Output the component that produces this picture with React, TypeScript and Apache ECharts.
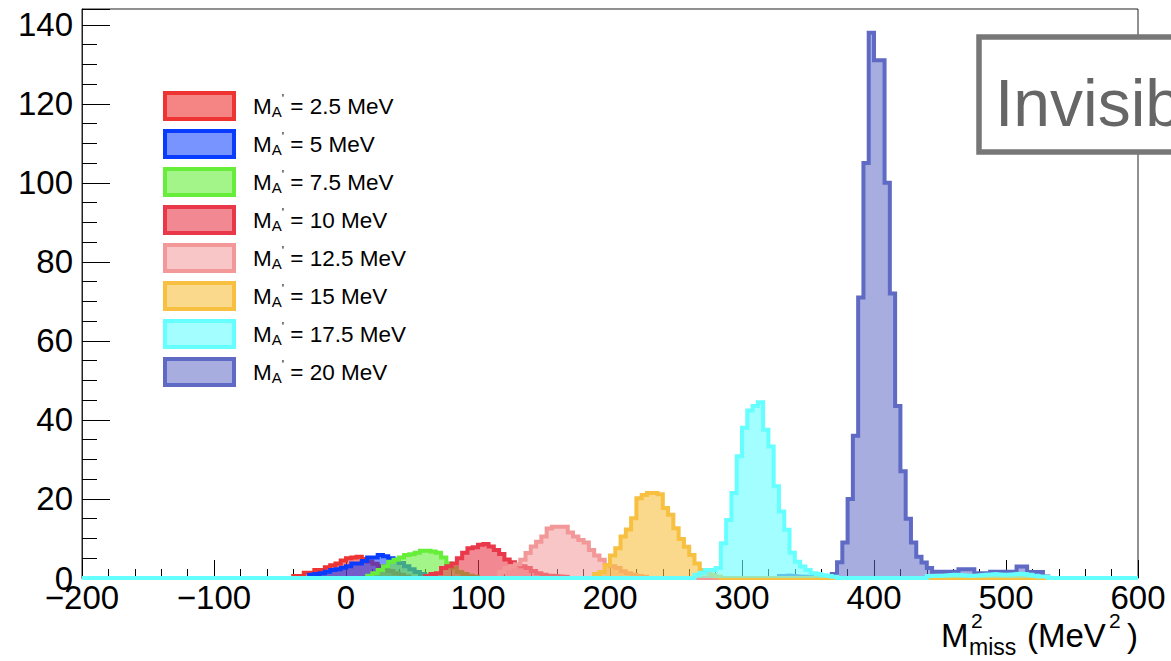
import React, { useEffect, useRef } from "react";
import * as echarts from "echarts";

// ---------- axis settings ----------
const X_MIN = -200;
const X_MAX = 600;
const BIN = 4;
const Y_MAX = 144;
const xTickValues = [-200, -100, 0, 100, 200, 300, 400, 500, 600];
const yTickValues = [0, 20, 40, 60, 80, 100, 120, 140];

// ---------- series labels / colours ----------
const massLabels = ["2.5", "5", "7.5", "10", "12.5", "15", "17.5", "20"];
const lineColors = ["#ee3333", "#0a3cff", "#66ee3a", "#e8384a", "#f29898", "#f8c040", "#66ffff", "#5f6ac5"];
const fillAlpha = [0.6, 0.55, 0.6, 0.6, 0.55, 0.6, 0.6, 0.55];

// ---------- histogram contents (bin width 4 MeV^2, first bin lower edge) ----------
const h25Start = -40;
const h25 = [0.5, 0.5, 1.3, 1.3, 2.0, 2.0, 2.7, 3.2, 3.7, 4.4, 5.0, 5.2, 5.4, 4.8, 4.2, 3.6, 3.0, 2.4, 1.8, 1.2, 0.8, 0.4];

const h5Start = -28;
const h5 = [0.8, 1.0, 1.2, 1.6, 2.0, 2.2, 2.6, 3.0, 3.7, 3.7, 4.3, 5.2, 5.2, 5.8, 5.5, 5.0, 4.6, 3.8, 3.0, 2.2, 1.5, 1.0, 0.6, 0.3];

const h75Start = 16;
const h75 = [0.6, 1.2, 2.0, 3.0, 4.1, 4.6, 5.2, 5.8, 6.0, 6.4, 6.9, 6.9, 6.7, 6.4, 5.2, 3.7, 2.5, 1.5, 1.0, 0.6, 0.3];

const h10Start = 60;
const h10 = [0.5, 1.0, 1.2, 2.5, 3.0, 3.7, 5.0, 6.4, 7.5, 7.8, 8.4, 8.6, 8.0, 7.1, 6.1, 4.7, 4.0, 3.3, 3.0, 2.5, 1.8, 1.2, 0.8, 0.6, 0.5, 0.4, 0.3];

const h125Start = 116;
const h125 = [1.5, 2.5, 3.0, 3.5, 4.6, 6.3, 8.0, 9.2, 10.5, 12.5, 13.0, 13.0, 13.0, 11.5, 10.5, 9.6, 9.0, 7.1, 5.7, 4.6, 3.3, 3.0, 2.5, 1.7, 1.2, 0.8, 0.5, 0.3];

const h15Start = 188;
const h15 = [1.0, 1.5, 3.3, 5.7, 7.5, 10.5, 12.3, 15.1, 20.2, 21.0, 21.5, 21.5, 21.2, 17.7, 16.0, 12.6, 9.9, 7.9, 5.8, 3.7, 2.0, 1.3, 0.8, 0.4];

const h175Start = 264;
const h175 = [0.8, 1.3, 2.0, 2.0, 2.5, 8.8, 14.7, 21.5, 30.8, 38.0, 42.4, 43.5, 44.5, 37.5, 33.3, 23.2, 16.8, 12.2, 6.4, 4.1, 2.9, 2.0, 1.2, 1.0, 0.7, 0.5, 0.3];
const h175TailStart = 440;
const h175Tail = [0.5, 0.6, 0.6, 0.7, 0.8, 0.8, 0.7, 0.6, 0.6, 0.7, 0.8, 0.9, 1.0, 0.9, 0.8, 0.9, 1.0, 1.1, 1.0, 0.8, 0.6, 0.4, 0.3];

const h20Start = 328;
const h20 = [0.5, 0.6, 0.5, 0.4, 0.3, 0.3, 0.3, 0.4, 0.5, 0.5, 1.0, 4.0, 9.0, 20, 36, 71, 105, 138, 131, 131, 100, 72, 43.5, 27, 15, 9, 5.4, 3.9, 2.5, 1.6, 1.6, 1.6, 1.6, 1.6, 2.2, 2.2, 2.2, 1.2, 1.2, 1.2, 1.6, 1.6, 1.6, 1.6, 1.6, 2.9, 2.9, 1.5, 1.5, 1.5, 0.4];

type Seg = { start: number; counts: number[] };

const histSegments: Seg[][] = [
  [{ start: h25Start, counts: h25 }],
  [{ start: h5Start, counts: h5 }],
  [{ start: h75Start, counts: h75 }],
  [{ start: h10Start, counts: h10 }],
  [{ start: h125Start, counts: h125 }],
  [{ start: h15Start, counts: h15 }],
  [
    { start: h175Start, counts: h175 },
    { start: h175TailStart, counts: h175Tail },
  ],
  [{ start: h20Start, counts: h20 }],
];

// drawing order (ROOT-like: tallest first, then the rest)
const drawOrder = [7, 0, 1, 2, 3, 4, 5, 6];

const FONT = "'Liberation Sans', Arial, Helvetica, sans-serif";

function histogramPoints(segs: Seg[]): [number, number][] {
  const nBins = Math.round((X_MAX - X_MIN) / BIN);
  const vals: number[] = new Array(nBins).fill(0);
  segs.forEach((s) => {
    const k0 = Math.round((s.start - X_MIN) / BIN);
    s.counts.forEach((c, i) => {
      const k = k0 + i;
      if (k >= 0 && k < nBins) vals[k] = c;
    });
  });
  const pts: [number, number][] = vals.map((v, k) => [X_MIN + k * BIN, v]);
  pts.push([X_MAX, 0]);
  return pts;
}

function hexToRgb(h: string): [number, number, number] {
  const n = parseInt(h.slice(1), 16);
  return [(n >> 16) & 255, (n >> 8) & 255, n & 255];
}

function blendWhite(h: string, a: number): string {
  const [r, g, b] = hexToRgb(h);
  const f = (c: number) => Math.round(255 - a * (255 - c));
  return `rgb(${f(r)},${f(g)},${f(b)})`;
}

export default function App() {
  const ref = useRef<HTMLDivElement>(null);

  useEffect(() => {
    if (!ref.current) return;
    const chart = echarts.init(ref.current, undefined, { renderer: "svg" });

    const seriesNames = massLabels.map((m) => `${m} MeV`);

    const series = drawOrder.map((i, z) => ({
      type: "line" as const,
      name: seriesNames[i],
      data: histogramPoints(histSegments[i]),
      step: "end" as const,
      symbol: "none",
      showSymbol: false,
      clip: false,
      silent: true,
      z: 2 + z * 0.01,
      yAxisIndex: 0,
      lineStyle: { color: lineColors[i], width: 4, cap: "butt", join: "miter" },
      itemStyle: { color: lineColors[i] },
      areaStyle: { color: lineColors[i], opacity: fillAlpha[i] },
    }));

    const option: any = {
      animation: false,
      backgroundColor: "#ffffff",
      grid: {
        left: 82,
        right: 33,
        top: 9,
        bottom: 83,
        show: true,
        borderColor: "#222",
        borderWidth: 1,
        backgroundColor: "transparent",
      },
      xAxis: {
        type: "value",
        min: X_MIN,
        max: X_MAX,
        interval: 100,
        axisLine: { show: true, onZero: false, lineStyle: { color: "#222", width: 1 } },
        axisTick: { show: true, inside: true, length: 18, lineStyle: { color: "#000", width: 1 } },
        minorTick: { show: true, splitNumber: 5, length: 9, lineStyle: { color: "#000", width: 1 } },
        splitLine: { show: false },
        axisLabel: {
          margin: 3,
          fontSize: 33,
          fontFamily: FONT,
          color: "#000",
          formatter: (v: number) =>
            xTickValues.includes(v) ? (v < 0 ? "\u2212" + Math.abs(v) : String(v)) : "",
        },
      },
      yAxis: [
        {
          type: "value",
          position: "left",
          min: 0,
          max: Y_MAX,
          interval: 20,
          axisLine: { show: true, onZero: false, lineStyle: { color: "#222", width: 1 } },
          axisTick: { show: true, inside: true, length: 28, lineStyle: { color: "#000", width: 1 } },
          minorTick: { show: false },
          splitLine: { show: false },
          axisLabel: {
            margin: 9,
            fontSize: 33,
            fontFamily: FONT,
            color: "#000",
            formatter: (v: number) => (yTickValues.includes(v) ? String(v) : ""),
          },
        },
        {
          type: "value",
          position: "left",
          min: 0,
          max: Y_MAX,
          interval: 5,
          axisLine: { show: false, onZero: false },
          axisTick: { show: true, inside: true, length: 15, lineStyle: { color: "#000", width: 1 } },
          splitLine: { show: false },
          axisLabel: { show: false },
        },
      ],
      legend: {
        show: true,
        orient: "vertical",
        left: 163,
        top: 91,
        padding: 0,
        itemWidth: 69,
        itemHeight: 26,
        itemGap: 8,
        icon: "rect",
        selectedMode: false,
        data: massLabels.map((m, i) => ({
          name: seriesNames[i],
          icon: "rect",
          itemStyle: {
            color: blendWhite(lineColors[i], fillAlpha[i]),
            borderColor: lineColors[i],
            borderWidth: 4,
          },
        })),
        formatter: (name: string) => {
          const m = name.replace(" MeV", "");
          return `{m|M}{a|A}{p|'}{t| = ${m} MeV}`;
        },
        textStyle: {
          fontFamily: FONT,
          color: "#000",
          rich: {
            m: { fontSize: 22.5, lineHeight: 26, fontFamily: FONT, color: "#000", padding: [0, 0, 0, 14] },
            a: { fontSize: 15, lineHeight: 10, verticalAlign: "bottom", fontFamily: FONT, color: "#000" },
            p: { fontSize: 12, lineHeight: 24, verticalAlign: "top", fontFamily: FONT, color: "#000" },
            t: { fontSize: 22.5, lineHeight: 26, fontFamily: FONT, color: "#000" },
          },
        },
      },
      graphic: [
        {
          type: "rect",
          z: 100,
          shape: { x: 979, y: 37, width: 400, height: 115 },
          style: { fill: "#ffffff", stroke: "#777777", lineWidth: 5.5 },
        },
        {
          type: "text",
          z: 101,
          x: 995,
          y: 103,
          style: { text: "Invisible", fontSize: 66, fontFamily: FONT, fill: "#666666", verticalAlign: "middle", align: "left" },
        },
        {
          type: "group",
          z: 100,
          children: [
            { type: "text", x: 941, y: 635, style: { text: "M", fontSize: 33, fontFamily: FONT, fill: "#000", verticalAlign: "middle" } },
            { type: "text", x: 971, y: 620, style: { text: "2", fontSize: 21, fontFamily: FONT, fill: "#000", verticalAlign: "middle" } },
            { type: "text", x: 969, y: 647, style: { text: "miss", fontSize: 23, fontFamily: FONT, fill: "#000", verticalAlign: "middle" } },
            { type: "text", x: 1027, y: 635, style: { text: "(MeV", fontSize: 33, fontFamily: FONT, fill: "#000", verticalAlign: "middle" } },
            { type: "text", x: 1109, y: 620, style: { text: "2", fontSize: 21, fontFamily: FONT, fill: "#000", verticalAlign: "middle" } },
            { type: "text", x: 1138, y: 635, style: { text: ")", fontSize: 33, fontFamily: FONT, fill: "#000", verticalAlign: "middle", align: "right" } },
          ],
        },
      ],
      series,
    };

    chart.setOption(option);
    return () => chart.dispose();
  }, []);

  return (
    <div
      ref={ref}
      style={{ position: "fixed", left: 0, top: 0, width: 1171, height: 661, background: "#fff" }}
    />
  );
}
